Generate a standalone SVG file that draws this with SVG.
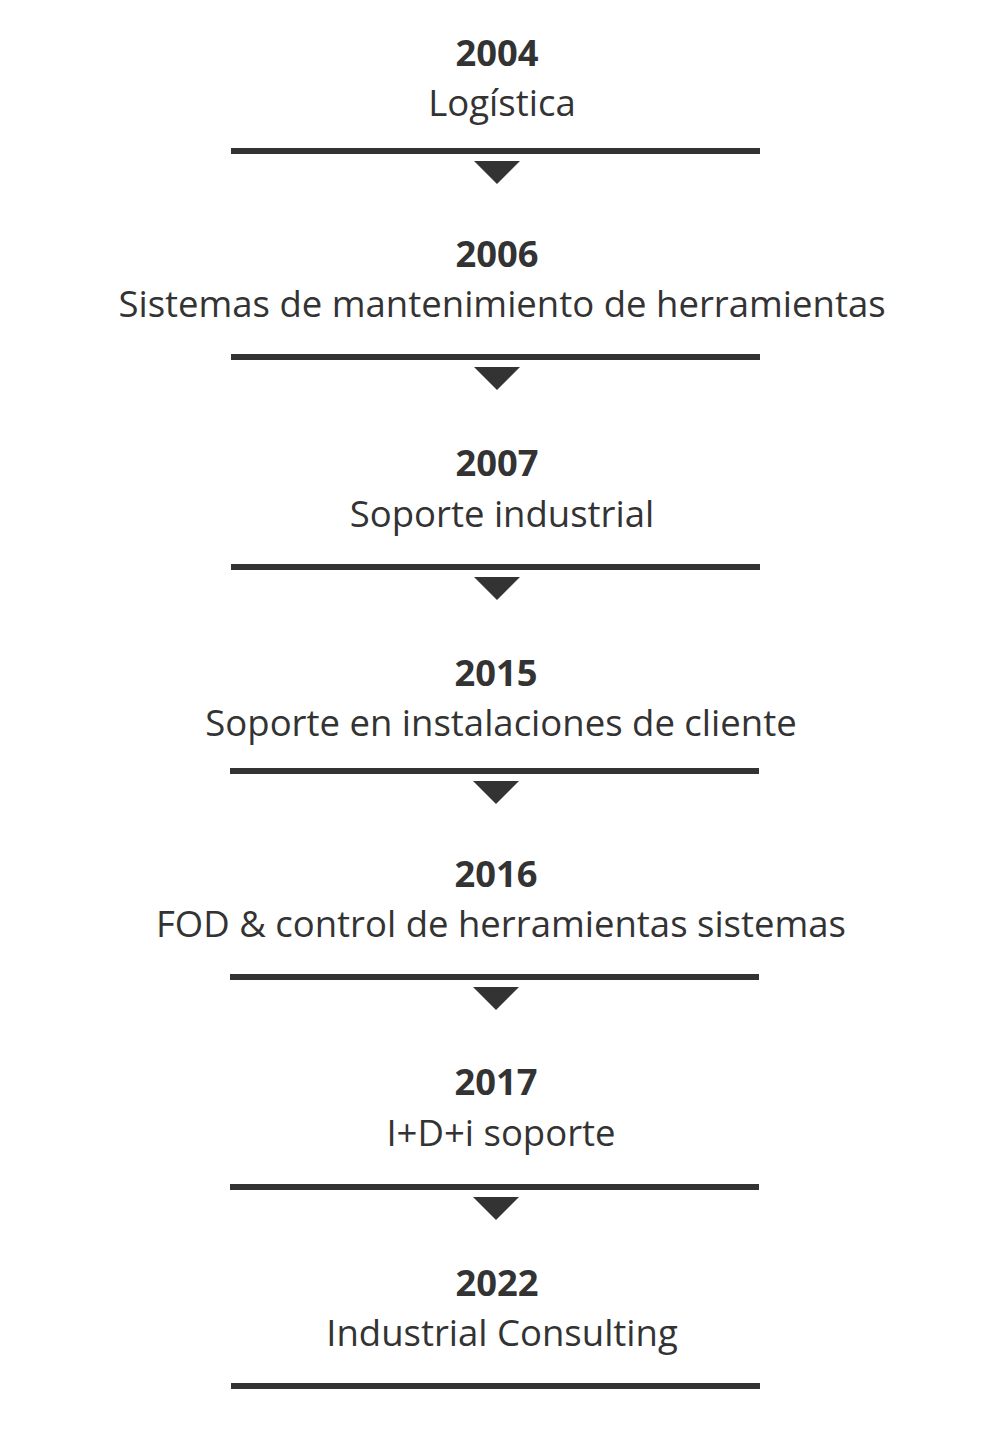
<svg xmlns="http://www.w3.org/2000/svg" width="1000" height="1447" viewBox="0 0 1000 1447">
<style>
.yr{font-family:"Open Sans",sans-serif;font-weight:700;font-size:36.3px;fill:#333;text-anchor:middle}
.lb{font-family:"Open Sans",sans-serif;font-weight:400;font-size:36.5px;fill:#333;text-anchor:middle}
.bar{stroke:#333;stroke-width:6}
.tri{fill:#333}
</style>
<rect width="1000" height="1447" fill="#fff"/>
<g id="n2004"><text class="yr" x="497" y="66">2004</text><text class="lb" x="502" y="116">Logística</text></g>
<g id="n2006"><text class="yr" x="497" y="267">2006</text><text class="lb" x="502" y="317">Sistemas de mantenimiento de herramientas</text></g>
<g id="n2007"><text class="yr" x="497" y="476">2007</text><text class="lb" x="502" y="527">Soporte industrial</text></g>
<g id="n2015"><text class="yr" x="496" y="686">2015</text><text class="lb" x="501" y="736">Soporte en instalaciones de cliente</text></g>
<g id="n2016"><text class="yr" x="496" y="887">2016</text><text class="lb" x="501" y="937">FOD &amp; control de herramientas sistemas</text></g>
<g id="n2017"><text class="yr" x="496" y="1095">2017</text><text class="lb" x="501" y="1146">I+D+i soporte</text></g>
<g id="n2022"><text class="yr" x="497" y="1296">2022</text><text class="lb" x="502" y="1346">Industrial Consulting</text></g>
<g id="connectors">
<line class="bar" x1="231" y1="151" x2="760" y2="151"/>
<polygon class="tri" points="474,161 520,161 497,184"/>
<line class="bar" x1="231" y1="357" x2="760" y2="357"/>
<polygon class="tri" points="474,367 520,367 497,390"/>
<line class="bar" x1="231" y1="567" x2="760" y2="567"/>
<polygon class="tri" points="474,577 520,577 497,600"/>
<line class="bar" x1="230" y1="771" x2="759" y2="771"/>
<polygon class="tri" points="473,781 519,781 496,804"/>
<line class="bar" x1="230" y1="977" x2="759" y2="977"/>
<polygon class="tri" points="473,987 519,987 496,1010"/>
<line class="bar" x1="230" y1="1187" x2="759" y2="1187"/>
<polygon class="tri" points="473,1197 519,1197 496,1220"/>
<line class="bar" x1="231" y1="1386" x2="760" y2="1386"/>
</g>
</svg>
